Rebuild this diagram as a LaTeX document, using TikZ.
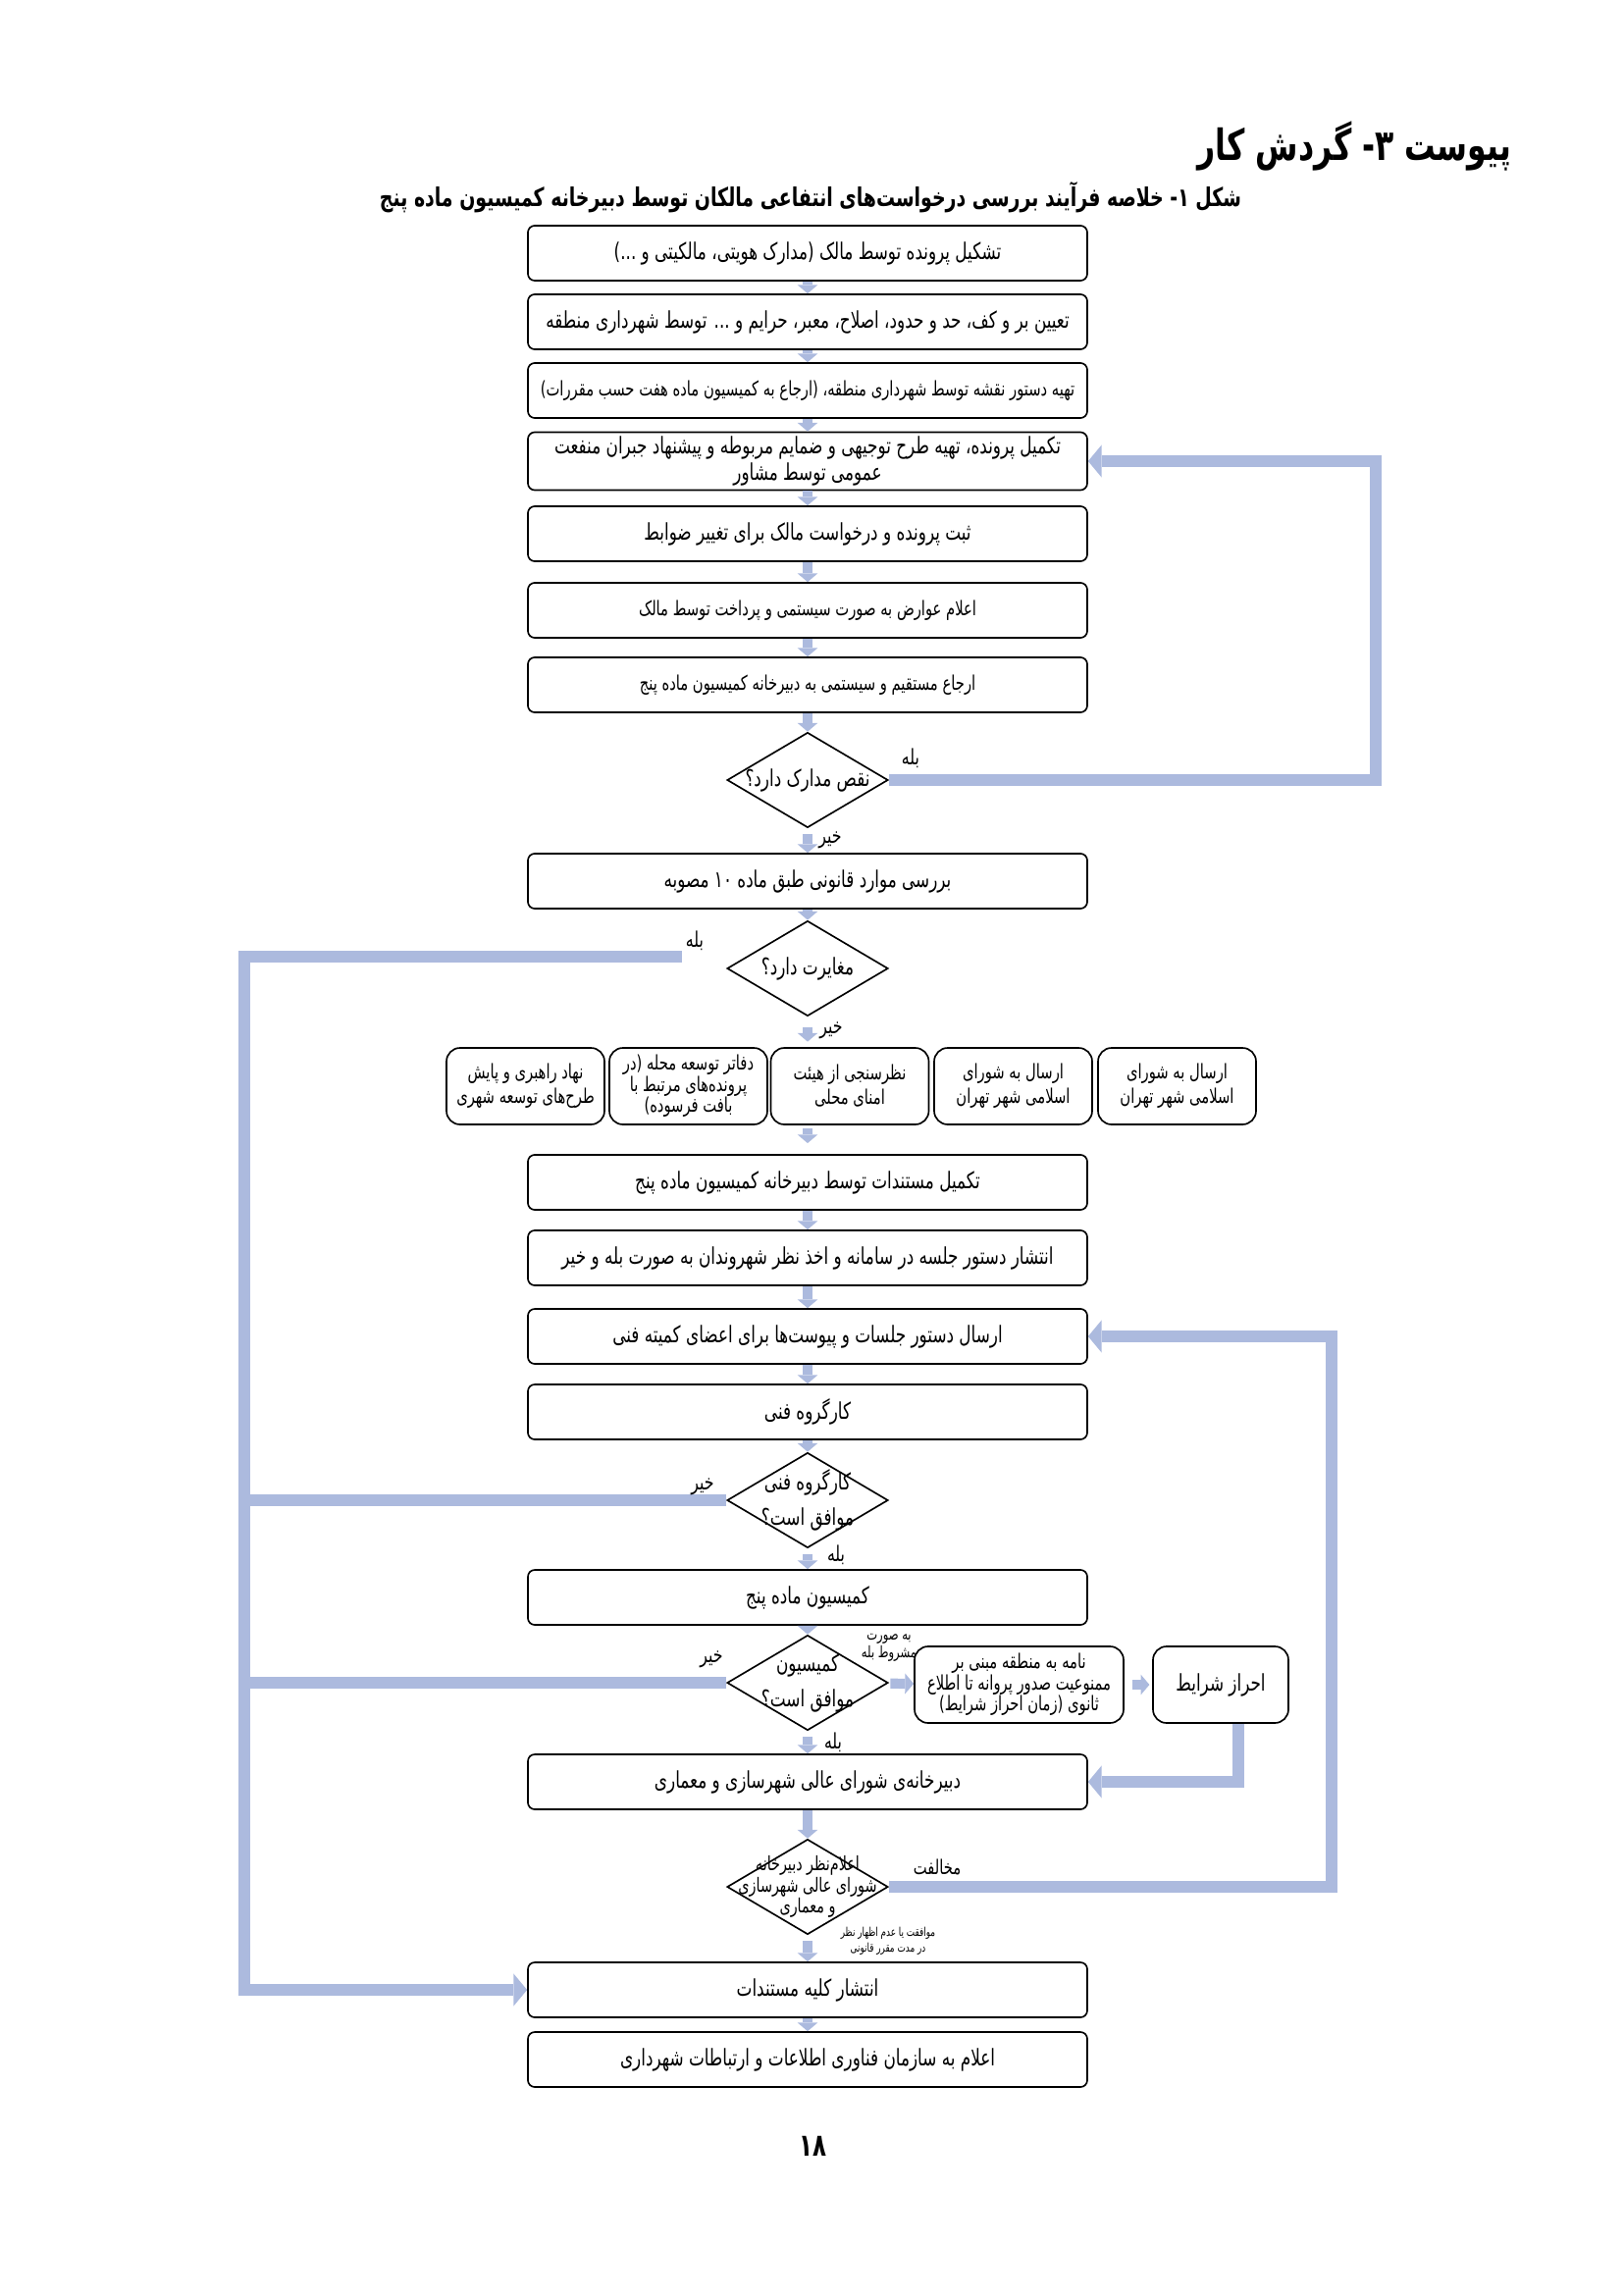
\documentclass[tikz,border=0pt]{standalone}
\usepackage{fontspec}
\usetikzlibrary{shapes.geometric,arrows.meta}
\TeXXeTstate=1
\newfontfamily\arabicfont[Script=Arabic,FakeStretch=0.72]{DejaVu Sans}
\newcommand\fa[1]{{\arabicfont\beginR #1\endR}}
\definecolor{linkblue}{RGB}{172,186,222}
\def\pix{0.127mm} % one pixel of the page
\tikzset{
  stepbox/.style={draw, line width=0.6pt, rounded corners=2.5pt, minimum width=570*\pix,
    minimum height=56*\pix, inner sep=1pt, align=center, font=\fontsize{8.45}{10}\selectfont},
  optbox/.style={draw, line width=0.6pt, rounded corners=5pt, minimum width=161*\pix,
    minimum height=78*\pix, inner sep=1pt, align=center, font=\fontsize{7.4}{9}\selectfont},
  sidebox/.style={optbox, font=\fontsize{7.4}{7.8}\selectfont},
  askbox/.style={draw, diamond, line width=0.6pt, minimum width=164*\pix, minimum height=97*\pix, inner sep=0pt},
  asktext/.style={align=center, font=\fontsize{8.45}{13}\selectfont},
  tag/.style={font=\fontsize{7.9}{9}\selectfont, inner sep=1pt},
  smalltag/.style={align=center, font=\fontsize{5.8}{6.5}\selectfont, inner sep=1pt},
  smallarrow/.style={linkblue, line width=3.7pt, -{Triangle[width=7.5pt,length=3.2pt,line width=0pt]}},
  backline/.style={linkblue, line width=4.5pt},
  backarrow/.style={backline, -{Triangle[width=12pt,length=5pt,line width=0pt]}},
}
\begin{document}
\begin{tikzpicture}[x=\pix, y=-\pix]
\useasboundingbox (0,0) rectangle (1654,2339);
\node[anchor=east, font=\bfseries\fontsize{15.8}{18}\selectfont] (title) at (1550,149) {\fa{پیوست ۳- گردش کار}};
\node[font=\bfseries\fontsize{9.5}{11}\selectfont] (caption) at (826,201) {\fa{شکل ۱- خلاصه فرآیند بررسی درخواست‌های انتفاعی مالکان توسط دبیرخانه کمیسیون ماده پنج}};
% ستون اصلی
\node[stepbox] (b1) at (823,258) {\fa{تشکیل پرونده توسط مالک (مدارک هویتی، مالکیتی و ...)}};
\node[stepbox] (b2) at (823,328) {\fa{تعیین بر و کف، حد و حدود، اصلاح، معبر، حرایم و ... توسط شهرداری منطقه}};
\node[stepbox, font=\fontsize{7.4}{9}\selectfont] (b3) at (823,398) {\fa{تهیه دستور نقشه توسط شهرداری منطقه، (ارجاع به کمیسیون ماده هفت حسب مقررات)}};
\node[stepbox, minimum height=59*\pix] (b4) at (823,470) {\fa{تکمیل پرونده، تهیه طرح توجیهی و ضمایم مربوطه و پیشنهاد جبران منفعت}\\\fa{عمومی توسط مشاور}};
\node[stepbox] (b5) at (823,544) {\fa{ثبت پرونده و درخواست مالک برای تغییر ضوابط}};
\node[stepbox, font=\fontsize{7.4}{9}\selectfont] (b6) at (823,622) {\fa{اعلام عوارض به صورت سیستمی و پرداخت توسط مالک}};
\node[stepbox, font=\fontsize{7.4}{9}\selectfont] (b7) at (823,698) {\fa{ارجاع مستقیم و سیستمی به دبیرخانه کمیسیون ماده پنج}};
\node[askbox] (d1) at (823,795) {};
\node[asktext] (d1t) at (d1) {\fa{نقص مدارک دارد؟}};
\node[stepbox] (b8) at (823,898) {\fa{بررسی موارد قانونی طبق ماده ۱۰ مصوبه}};
\node[askbox] (d2) at (823,987) {};
\node[asktext] (d2t) at (d2) {\fa{مغایرت دارد؟}};
% ردیف نظرخواهی
\node[optbox] (r5) at (1199.5,1107) {\fa{ارسال به شورای}\\\fa{اسلامی شهر تهران}};
\node[optbox] (r4) at (1032.5,1107) {\fa{ارسال به شورای}\\\fa{اسلامی شهر تهران}};
\node[optbox] (r3) at (866,1107) {\fa{نظرسنجی از هیئت}\\\fa{امنای محلی}};
\node[sidebox] (r2) at (701.5,1107) {\fa{دفاتر توسعه محله (در}\\\fa{پرونده‌های مرتبط با}\\\fa{بافت فرسوده)}};
\node[optbox] (r1) at (535.5,1107) {\fa{نهاد راهبری و پایش}\\\fa{طرح‌های توسعه شهری}};
\node[stepbox] (b9) at (823,1205) {\fa{تکمیل مستندات توسط دبیرخانه کمیسیون ماده پنج}};
\node[stepbox] (b10) at (823,1282) {\fa{انتشار دستور جلسه در سامانه و اخذ نظر شهروندان به صورت بله و خیر}};
\node[stepbox] (b11) at (823,1362) {\fa{ارسال دستور جلسات و پیوست‌ها برای اعضای کمیته فنی}};
\node[stepbox] (b12) at (823,1439) {\fa{کارگروه فنی}};
\node[askbox] (d3) at (823,1529) {};
\node[asktext] (d3t) at (d3) {\fa{کارگروه فنی}\\\fa{موافق است؟}};
\node[stepbox] (b13) at (823,1628) {\fa{کمیسیون ماده پنج}};
\node[askbox] (d4) at (823,1715) {};
\node[asktext] (d4t) at (d4) {\fa{کمیسیون}\\\fa{موافق است؟}};
\node[sidebox, minimum width=213*\pix] (s1) at (1038.5,1717) {\fa{نامه به منطقه مبنی بر}\\\fa{ممنوعیت صدور پروانه تا اطلاع}\\\fa{ثانوی (زمان احراز شرایط)}};
\node[optbox, minimum width=138*\pix, font=\fontsize{8.45}{10}\selectfont] (s2) at (1244,1717) {\fa{احراز شرایط}};
\node[stepbox] (b14) at (823,1816) {\fa{دبیرخانه‌ی شورای عالی شهرسازی و معماری}};
\node[askbox] (d5) at (823,1923) {};
\node[asktext, font=\fontsize{7.2}{7.8}\selectfont] (d5t) at (d5) {\fa{اعلام‌نظر دبیرخانه}\\\fa{شورای عالی شهرسازی}\\\fa{و معماری}};
\node[stepbox] (b15) at (823,2028) {\fa{انتشار کلیه مستندات}};
\node[stepbox] (b16) at (823,2099) {\fa{اعلام به سازمان فناوری اطلاعات و ارتباطات شهرداری}};
\node[font=\bfseries\fontsize{11.5}{13}\selectfont] (pageno) at (828,2187) {\fa{۱۸}};
% فلش‌های کوچک
\foreach \a/\b in {b1/b2,b2/b3,b3/b4,b4/b5,b5/b6,b6/b7,b7/d1,b8/d2,b9/b10,b10/b11,b11/b12,b12/d3,b13/d4,b14/d5,b15/b16}
  \draw[smallarrow] (\a) -- (\b);
\foreach \a/\b in {d1/b8,d3/b13,d4/b14,d5/b15}
  \draw[smallarrow, shorten <=2pt] (\a) -- (\b);
\draw[smallarrow, shorten <=4pt, shorten >=2pt] (d2) -- (d2.south |- r3.north);
\draw[smallarrow, shorten <=1pt, shorten >=4pt] (d2.south |- r3.south) -- (b9);
\draw[smallarrow, shorten <=1pt] (d4) -- (s1);
\draw[smallarrow, shorten <=3pt, shorten >=1pt] (s1) -- (s2);
% مسیرهای برگشت
\coordinate (rgt1) at (1402,795);
\draw[backarrow] (d1.east) -- (rgt1) |- (b4.east);
\coordinate (d2out) at (695,975);
\coordinate (lft) at (249,975);
\draw[backarrow] (d2out) -- (lft) |- (b15.west);
\draw[backline] (d3.west) -- (d3.west -| lft);
\draw[backline] (d4.west) -- (d4.west -| lft);
\coordinate (rgt2) at (1357,1923);
\draw[backarrow] (d5.east) -- (rgt2) |- (b11.east);
\draw[backarrow] ([xshift=18*\pix]s2.south) |- (b14.east);
% برچسب‌ها
\node[tag] (yes1) at (928,773) {\fa{بله}};
\node[tag] (no1) at (846,856) {\fa{خیر}};
\node[tag] (yes2) at (708,959) {\fa{بله}};
\node[tag] (no2) at (847,1050) {\fa{خیر}};
\node[tag] (no3) at (716,1515) {\fa{خیر}};
\node[tag] (yes3) at (852,1585) {\fa{بله}};
\node[tag] (no4) at (725,1691) {\fa{خیر}};
\node[smalltag] (cond) at (906,1679) {\fa{به صورت}\\\fa{مشروط بله}};
\node[tag] (yes4) at (849,1776) {\fa{بله}};
\node[tag, font=\fontsize{7.4}{9}\selectfont] (against) at (955,1903) {\fa{مخالفت}};
\node[smalltag, font=\fontsize{4.45}{5.8}\selectfont] (agree) at (905,1978) {\fa{موافقت یا عدم اظهار نظر}\\\fa{در مدت مقرر قانونی}};
\end{tikzpicture}
\end{document}
